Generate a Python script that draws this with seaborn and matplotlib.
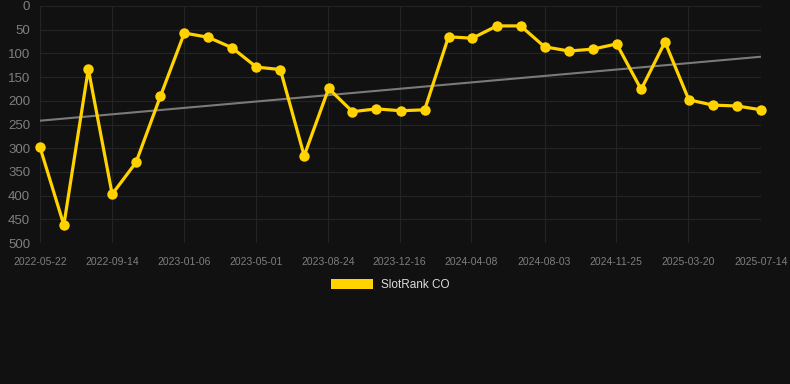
import pandas as pd
import seaborn as sns
import matplotlib.pyplot as plt
from matplotlib.patches import Patch

# Data
dates = ["2022-05-22", "2022-06-29", "2022-08-07", "2022-09-14", "2022-10-22",
         "2022-11-30", "2023-01-07", "2023-02-14", "2023-03-24", "2023-05-02",
         "2023-06-09", "2023-07-17", "2023-08-25", "2023-10-02", "2023-11-09",
         "2023-12-18", "2024-01-25", "2024-03-03", "2024-04-10", "2024-05-19",
         "2024-06-26", "2024-08-03", "2024-09-11", "2024-10-19", "2024-11-26",
         "2025-01-04", "2025-02-11", "2025-03-21", "2025-04-28", "2025-06-06",
         "2025-07-14"]
ranks = [298, 462, 133, 397, 330, 190, 57, 66, 88, 129,
         134, 316, 174, 223, 217, 221, 219, 65, 68, 42,
         42, 86, 95, 91, 80, 176, 76, 198, 209, 211, 219]
trend_dates = ["2022-05-22", "2025-07-14"]
trend_values = [242, 107]
tick_labels = ["2022-05-22", "2022-09-14", "2023-01-06", "2023-05-01", "2023-08-24",
               "2023-12-16", "2024-04-08", "2024-08-03", "2024-11-25", "2025-03-20",
               "2025-07-14"]
y_ticks = [0, 50, 100, 150, 200, 250, 300, 350, 400, 450, 500]
series_name = "SlotRank CO"

df = pd.DataFrame({"date": pd.to_datetime(dates), "rank": ranks})
trend = pd.DataFrame({"date": pd.to_datetime(trend_dates), "rank": trend_values})

bg = "#111111"
gold = "#ffd200"
grid_col = "#242424"
sns.set_theme(style="dark")
plt.rcParams["font.family"] = ["Liberation Sans", "DejaVu Sans"]

fig = plt.figure(figsize=(7.9, 3.84), dpi=100, facecolor=bg)
ax = fig.add_axes([40 / 790, 1 - 243 / 384, 721 / 790, 237 / 384])
ax.set_facecolor(bg)

sns.lineplot(data=trend, x="date", y="rank", ax=ax, color="#7a7a7a",
             linewidth=1.5, zorder=2)
sns.lineplot(data=df, x="date", y="rank", ax=ax, color=gold, linewidth=2.3,
             marker="o", markersize=7.5, markeredgewidth=0, zorder=3,
             clip_on=False)

ax.set_xlim(pd.Timestamp(dates[0]), pd.Timestamp(dates[-1]))
ax.set_ylim(500, 0)
ax.set_yticks(y_ticks)
ax.set_yticklabels([str(v) for v in y_ticks], fontsize=9.5, color="#7f7f7f")
ax.set_xticks(pd.to_datetime(tick_labels))
ax.set_xticklabels(tick_labels, fontsize=7.5, color="#7f7f7f")
ax.tick_params(axis="y", length=0, pad=7)
ax.tick_params(axis="x", length=6, width=0.8, color=grid_col, pad=4, direction="out")
ax.set_xlabel("")
ax.set_ylabel("")
ax.grid(True, color=grid_col, linewidth=0.8)
for s in ax.spines.values():
    s.set_visible(False)

handles = [Patch(facecolor=gold, edgecolor="none", label=series_name)]
leg = fig.legend(handles=handles, loc="center", bbox_to_anchor=(390 / 790, 1 - 285 / 384),
                 frameon=False, fontsize=8.5, handlelength=3.6, handleheight=1.0,
                 handletextpad=0.6)
for t in leg.get_texts():
    t.set_color("#dddddd")

fig.savefig("out.png", dpi=100, facecolor=bg)
